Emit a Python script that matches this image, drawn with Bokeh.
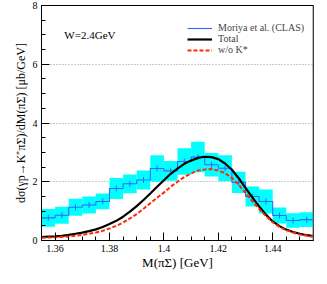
import numpy as np
from bokeh.plotting import figure
from bokeh.models import Range1d, FixedTicker, Legend, LegendItem, Span
from bokeh.core.properties import value
from bokeh.embed import file_html
from bokeh.resources import INLINE

# ---- data ----
bin_centers = [1.3575, 1.3625, 1.3675, 1.3725, 1.3775, 1.3825, 1.3875, 1.3925, 1.3975, 1.4025,
               1.4075, 1.4125, 1.4175, 1.4225, 1.4275, 1.4325, 1.4375, 1.4425, 1.4475, 1.4525]
bin_width = 0.005
clas_values = [0.77, 0.86, 1.13, 1.21, 1.33, 1.77, 1.93, 2.06, 2.45, 2.37,
               2.69, 2.84, 2.58, 2.46, 1.98, 1.50, 1.33, 0.85, 0.68, 0.71]
clas_sys_err = [0.30, 0.29, 0.29, 0.29, 0.27, 0.36, 0.32, 0.32, 0.45, 0.34,
                0.45, 0.52, 0.40, 0.44, 0.36, 0.34, 0.41, 0.27, 0.25, 0.25]

curve_mass = [1.355, 1.3575, 1.36, 1.3625, 1.365, 1.3675, 1.37, 1.3725, 1.375, 1.3775,
              1.38, 1.3825, 1.385, 1.3875, 1.39, 1.3925, 1.395, 1.3975, 1.40, 1.4025,
              1.405, 1.4075, 1.41, 1.4125, 1.415, 1.4175, 1.42, 1.4225, 1.425, 1.4275,
              1.43, 1.4325, 1.435, 1.4375, 1.44, 1.4425, 1.445, 1.4475, 1.45, 1.4525, 1.455]
total_values = [0.12, 0.13, 0.14, 0.16, 0.19, 0.23, 0.27, 0.32, 0.38, 0.46,
                0.56, 0.67, 0.81, 0.98, 1.17, 1.38, 1.60, 1.83, 2.05, 2.27,
                2.45, 2.61, 2.72, 2.81, 2.85, 2.84, 2.77, 2.62, 2.41, 2.12,
                1.79, 1.47, 1.16, 0.88, 0.65, 0.49, 0.37, 0.29, 0.23, 0.18, 0.15]
wo_kstar_values = [0.09, 0.10, 0.11, 0.12, 0.14, 0.16, 0.19, 0.23, 0.27, 0.33,
                   0.41, 0.50, 0.61, 0.75, 0.90, 1.08, 1.27, 1.46, 1.63, 1.83,
                   2.00, 2.16, 2.28, 2.38, 2.42, 2.43, 2.38, 2.29, 2.13, 1.90,
                   1.62, 1.34, 1.07, 0.83, 0.62, 0.46, 0.35, 0.27, 0.20, 0.16, 0.12]

x_major_ticks = [1.36, 1.38, 1.40, 1.42, 1.44]
y_major_ticks = [0, 2, 4, 6, 8]

FONT = "Liberation Serif"

p = figure(width=316, height=276, output_backend="svg", toolbar_location=None,
           x_range=Range1d(1.355, 1.455), y_range=Range1d(0, 8),
           min_border_left=41, min_border_right=3, min_border_top=5, min_border_bottom=36)
p.background_fill_color = "white"
p.border_fill_color = "white"
p.outline_line_color = "black"
p.outline_line_width = 1

# error band
lefts = [c - bin_width / 2 for c in bin_centers]
rights = [c + bin_width / 2 for c in bin_centers]
lo = [v - e for v, e in zip(clas_values, clas_sys_err)]
hi = [v + e for v, e in zip(clas_values, clas_sys_err)]
p.quad(left=lefts, right=rights, bottom=lo, top=hi, fill_color="#00ffff", line_color=None)

# histogram step line
xs = lefts + [rights[-1]]
ys = clas_values + [clas_values[-1]]
step_r = p.step(xs, ys, mode="after", line_color="#3366ff", line_width=1.1)
tick_r = p.scatter(bin_centers, clas_values, marker="dash", angle=np.pi / 2, size=6,
                   line_color="#3366ff", line_width=1)

tot_r = p.line(curve_mass, total_values, line_color="black", line_width=2.2)
red_r = p.line(curve_mass, wo_kstar_values, line_color="#ff2a00", line_width=2,
               line_dash="4 2")

p.text(x=[1.3634], y=[7.0], text=["W=2.4GeV"], text_font=value(FONT),
       text_font_size="11px", text_baseline="middle", text_align="left", text_color="black")

# grey right frame edge
p.add_layout(Span(location=1.455, dimension="height", line_color="#777777", line_width=2))

legend = Legend(items=[
    LegendItem(label="Moriya et al. (CLAS)", renderers=[step_r, tick_r]),
    LegendItem(label="Total", renderers=[tot_r]),
    LegendItem(label="w/o K*", renderers=[red_r]),
], location=(144, 183), background_fill_alpha=0, border_line_alpha=0,
    label_text_font=FONT, label_text_font_size="10px", glyph_width=25, glyph_height=10,
    label_height=10, spacing=0, padding=2, margin=0, label_standoff=6)
p.add_layout(legend)

# axes
p.xaxis.ticker = FixedTicker(ticks=x_major_ticks,
                             minor_ticks=list(np.round(np.arange(1.355, 1.4551, 0.005), 4)))
p.xaxis.major_label_overrides = {t: f"{t:g}" for t in x_major_ticks}
p.yaxis.ticker = FixedTicker(ticks=y_major_ticks,
                             minor_ticks=list(np.arange(0, 8.01, 0.5)))
for ax in (p.xaxis[0], p.yaxis[0]):
    ax.major_tick_in = 8
    ax.major_tick_out = 0
    ax.minor_tick_in = 4
    ax.minor_tick_out = 0
    ax.axis_line_color = "black"
    ax.major_tick_line_color = "black"
    ax.minor_tick_line_color = "black"
    ax.major_label_text_font = FONT
    ax.major_label_text_font_size = "10px"
    ax.major_label_text_color = "black"
    ax.axis_label_text_font = FONT
    ax.axis_label_text_font_style = "normal"
    ax.axis_label_text_color = "black"
    ax.major_label_standoff = 4

p.xaxis.axis_label = "M(πΣ) [GeV]"
p.xaxis.axis_label_text_font_size = "13px"
p.xaxis.axis_label_standoff = 0
p.yaxis.axis_label = "dσ(γp→K⁺πΣ)/dM(πΣ) [μb/GeV]"
p.yaxis.axis_label_text_font_size = "12px"
p.yaxis.axis_label_standoff = 2

p.xgrid.grid_line_color = None
p.ygrid.grid_line_color = "#999999"
p.ygrid.grid_line_dash = "1 2"
p.ygrid.grid_line_width = 1

open("out.html", "w").write(file_html(p, INLINE))
